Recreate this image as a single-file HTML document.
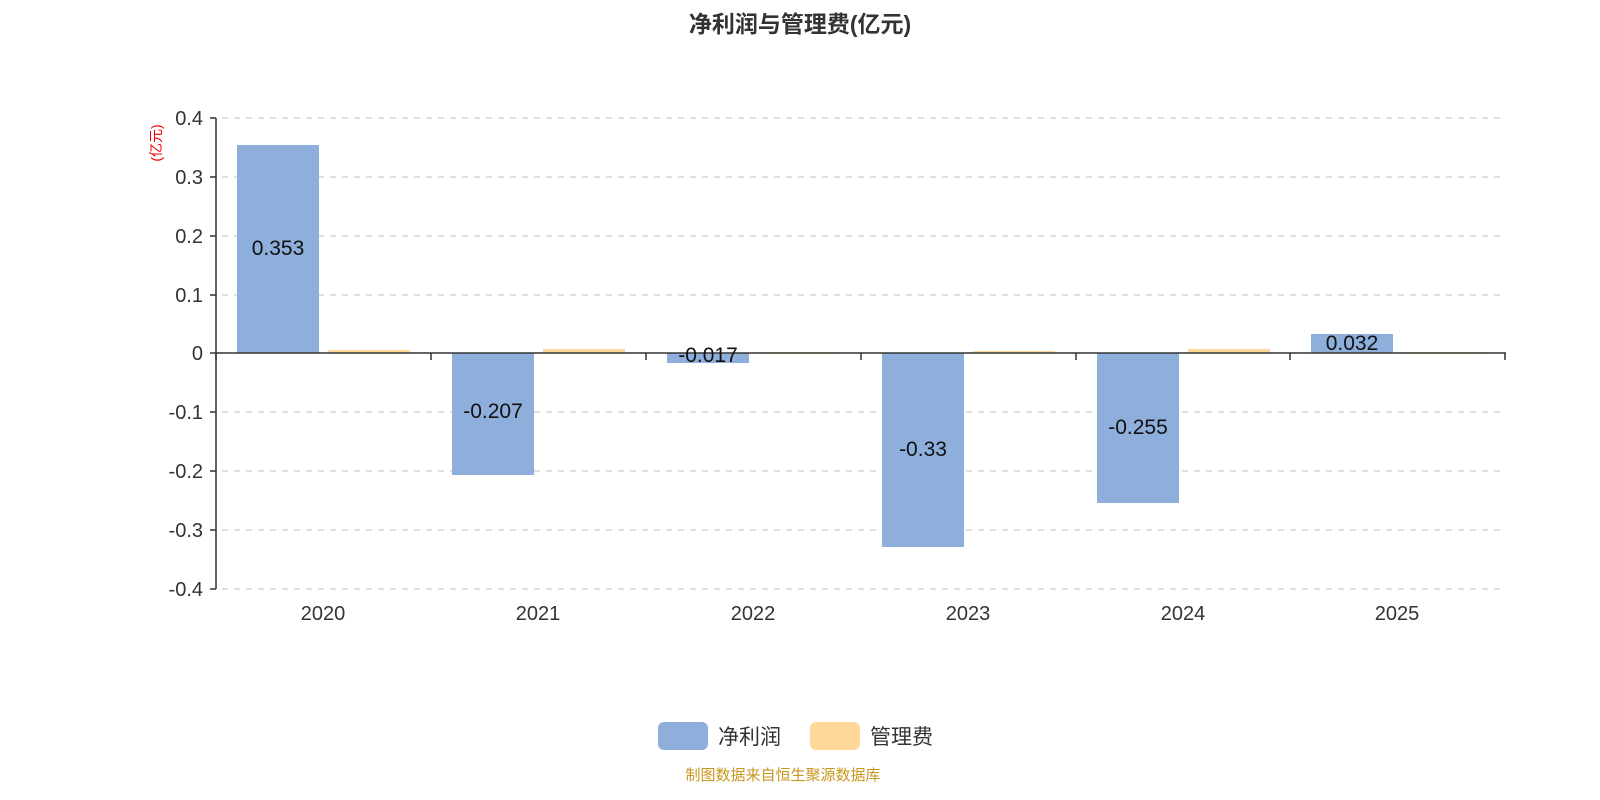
<!DOCTYPE html>
<html><head><meta charset="utf-8"><style>
html,body{margin:0;padding:0;background:#fff;width:1600px;height:800px;overflow:hidden}
svg text{font-family:"Liberation Sans","Noto Sans CJK SC",sans-serif}
</style></head><body>
<svg width="1600" height="800" xmlns="http://www.w3.org/2000/svg">
<text x="800" y="32" text-anchor="middle" font-size="23" font-weight="bold" fill="#333">净利润与管理费(亿元)</text>
<g stroke="#ccc" stroke-width="1.2" stroke-dasharray="6,6">
<line x1="222" y1="118" x2="1505" y2="118"/><line x1="222" y1="177" x2="1505" y2="177"/>
<line x1="222" y1="236" x2="1505" y2="236"/><line x1="222" y1="295" x2="1505" y2="295"/>
<line x1="222" y1="412" x2="1505" y2="412"/><line x1="222" y1="471" x2="1505" y2="471"/>
<line x1="222" y1="530" x2="1505" y2="530"/><line x1="222" y1="589" x2="1505" y2="589"/>
</g>
<g font-size="20" fill="#333" text-anchor="end">
<text x="203" y="125">0.4</text><text x="203" y="184">0.3</text><text x="203" y="243">0.2</text><text x="203" y="302">0.1</text><text x="203" y="360">0</text>
<text x="203" y="419">-0.1</text><text x="203" y="478">-0.2</text><text x="203" y="537">-0.3</text><text x="203" y="596">-0.4</text>
</g>
<text transform="translate(161,143) rotate(-90)" font-size="14" fill="#e00" text-anchor="middle">(亿元)</text>
<g fill="#8eaedb">
<rect x="237" y="145" width="82" height="208"/>
<rect x="452" y="353" width="82" height="122"/>
<rect x="667" y="353" width="82" height="10"/>
<rect x="882" y="353" width="82" height="194"/>
<rect x="1097" y="353" width="82" height="150"/>
<rect x="1311" y="334" width="82" height="19"/>
</g>
<g fill="#fed899">
<rect x="328" y="350" width="82" height="3"/>
<rect x="543" y="349" width="82" height="4"/>
<rect x="758" y="352" width="82" height="1"/>
<rect x="973" y="351" width="82" height="2"/>
<rect x="1188" y="349" width="82" height="4"/>
<rect x="1402" y="352" width="82" height="1"/>
</g>
<g stroke="#333" stroke-width="1.5">
<line x1="216" y1="118" x2="216" y2="589"/>
<line x1="210" y1="118" x2="216" y2="118"/><line x1="210" y1="177" x2="216" y2="177"/><line x1="210" y1="236" x2="216" y2="236"/><line x1="210" y1="295" x2="216" y2="295"/><line x1="210" y1="353" x2="216" y2="353"/><line x1="210" y1="412" x2="216" y2="412"/><line x1="210" y1="471" x2="216" y2="471"/><line x1="210" y1="530" x2="216" y2="530"/><line x1="210" y1="589" x2="216" y2="589"/>
<line x1="216" y1="353" x2="1506" y2="353"/>
<line x1="216" y1="353" x2="216" y2="360"/><line x1="431" y1="353" x2="431" y2="360"/><line x1="646" y1="353" x2="646" y2="360"/><line x1="861" y1="353" x2="861" y2="360"/><line x1="1076" y1="353" x2="1076" y2="360"/><line x1="1290" y1="353" x2="1290" y2="360"/><line x1="1505" y1="353" x2="1505" y2="360"/>
</g>
<g font-size="21" fill="#111" text-anchor="middle">
<text x="278" y="255">0.353</text>
<text x="493" y="418">-0.207</text>
<text x="708" y="362">-0.017</text>
<text x="923" y="456">-0.33</text>
<text x="1138" y="434">-0.255</text>
<text x="1352" y="350">0.032</text>
</g>
<g font-size="20" fill="#333" text-anchor="middle">
<text x="323" y="620">2020</text><text x="538" y="620">2021</text><text x="753" y="620">2022</text>
<text x="968" y="620">2023</text><text x="1183" y="620">2024</text><text x="1397" y="620">2025</text>
</g>
<rect x="658" y="722" width="50" height="28" rx="6" fill="#8eaedb"/>
<text x="718" y="744" font-size="21" fill="#333">净利润</text>
<rect x="810" y="722" width="50" height="28" rx="6" fill="#fed899"/>
<text x="870" y="744" font-size="21" fill="#333">管理费</text>
<text x="783" y="780" font-size="15" fill="#c8961e" text-anchor="middle">制图数据来自恒生聚源数据库</text>
</svg>
</body></html>
